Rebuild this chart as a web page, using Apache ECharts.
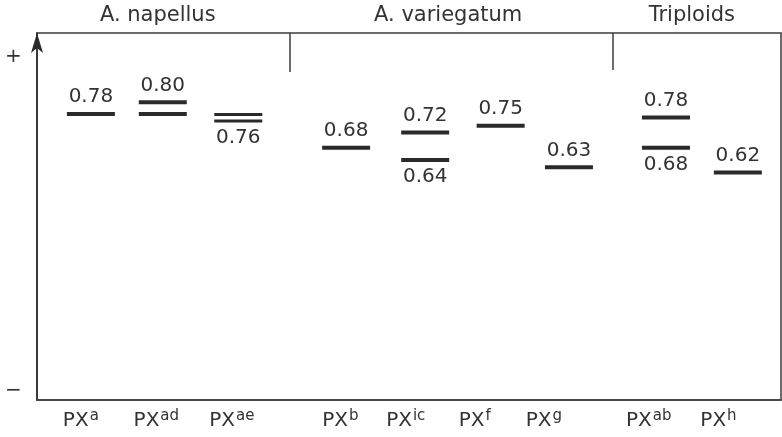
<!DOCTYPE html>
<html><head><meta charset="utf-8">
<script src="https://cdn.jsdelivr.net/npm/echarts@6/dist/echarts.min.js"></script>
<style>html,body{margin:0;padding:0;background:#fff}#c{width:782px;height:437px}</style>
</head><body><div id="c"></div>
<script>
// Isozyme (PX) categories and their superscripts
const categories = ['a', 'ad', 'ae', 'b', 'ic', 'f', 'g', 'ab', 'h'];
// positions of each lane along the horizontal axis (data units)
const xPos = [1, 2, 3.05, 4.55, 5.65, 6.7, 7.65, 9, 10];
// positions of the lane names under the axis
const tickPos = [0.86, 1.91, 2.96, 4.47, 5.38, 6.34, 7.30, 8.76, 9.73];
// band mobility (relative), upper and lower band of each lane
const upperBand = [0.779, 0.811, 0.778, 0.687, 0.729, 0.747, 0.634, 0.770, 0.620];
const lowerBand = [null, 0.779, 0.760, null, 0.654, null, null, 0.687, null];
// printed Rf values
const upperLabel = ['0.78', '0.80', '', '0.68', '0.72', '0.75', '0.63', '0.78', '0.62'];
const lowerLabel = ['', '', '0.76', '', '0.64', '', '', '0.68', ''];
// groups
const groups = ['A. napellus', 'A. variegatum', 'Triploids'];
const groupPos = [1.93, 5.97, 9.36];
const dividerPos = [3.77, 8.26];
const dividerEnd = [0.894, 0.899];

const FONT = 'DejaVu Sans';
const TXT = '#333';
const INK = '#2a2a2a';

const chart = echarts.init(document.getElementById('c'), null, {renderer: 'canvas'});

const upperData = upperBand.map((v, i) => [xPos[i], v, i]);
const lowerData = lowerBand.map((v, i) => v == null ? null : [xPos[i], v, i]).filter(d => d);

function bandSize(val) { return val[2] === 2 ? [48, 3] : [48, 4]; }

const option = {
  backgroundColor: '#fff',
  animation: false,
  grid: {left: 37, right: 1, top: 33, bottom: 37, show: true, borderColor: '#3c3c3c', borderWidth: 1.5, backgroundColor: 'transparent'},
  xAxis: {
    type: 'value', min: 0.25, max: 10.6,
    axisLine: {show: true, lineStyle: {color: '#3c3c3c', width: 1.5}},
    axisTick: {show: false}, axisLabel: {show: false}, splitLine: {show: false}
  },
  yAxis: {
    type: 'value', min: 0, max: 1,
    axisLine: {show: true, symbol: ['none', 'arrow'], symbolSize: [9, 20], lineStyle: {color: '#2a2a2a', width: 1.5}},
    axisTick: {show: false}, axisLabel: {show: false}, splitLine: {show: false}
  },
  graphic: [
    {type: 'text', left: 5, top: 47, style: {text: '+', font: '20px "DejaVu Sans"', fill: TXT}},
    {type: 'text', left: 5, top: 381, style: {text: '\u2212', font: '20px "DejaVu Sans"', fill: TXT}}
  ],
  series: [
    {
      type: 'scatter', name: 'upper', clip: false, data: upperData,
      symbol: 'rect', symbolSize: bandSize,
      itemStyle: {color: INK, opacity: 1},
      label: {show: true, position: 'top', distance: 5, color: TXT, fontFamily: FONT, fontSize: 20,
        formatter: p => upperLabel[p.data[2]]}
    },
    {
      type: 'scatter', name: 'lower', clip: false, data: lowerData,
      symbol: 'rect', symbolSize: bandSize,
      itemStyle: {color: INK, opacity: 1},
      label: {show: true, position: 'bottom', distance: 5, color: TXT, fontFamily: FONT, fontSize: 20,
        formatter: p => lowerLabel[p.data[2]]}
    },
    {
      type: 'scatter', name: 'lanes', clip: false, silent: true,
      data: tickPos.map((x, i) => [x, 0, i]), symbolSize: 0,
      itemStyle: {opacity: 1},
      label: {show: true, position: 'bottom', distance: 9, color: TXT,
        formatter: p => '{b|PX}{s|' + categories[p.data[2]] + '}',
        rich: {
          b: {fontFamily: FONT, fontSize: 20, color: TXT, lineHeight: 24},
          s: {fontFamily: FONT, fontSize: 15, color: TXT, verticalAlign: 'top', lineHeight: 15, padding: [0, 0, 9, 1]}
        }}
    },
    {
      type: 'scatter', name: 'groups', clip: false, silent: true,
      data: groupPos.map((x, i) => [x, 1, i]), symbolSize: 0,
      itemStyle: {opacity: 1},
      label: {show: true, position: 'top', distance: 7, color: TXT, fontFamily: FONT, fontSize: 21,
        formatter: p => groups[p.data[2]]},
      markLine: {
        silent: true, symbol: 'none', label: {show: false},
        lineStyle: {color: '#3c3c3c', width: 1.5, type: 'solid', opacity: 1},
        data: dividerPos.map((x, i) => [{coord: [x, 1]}, {coord: [x, dividerEnd[i]]}])
      }
    }
  ]
};
chart.setOption(option);
</script>
</body></html>
